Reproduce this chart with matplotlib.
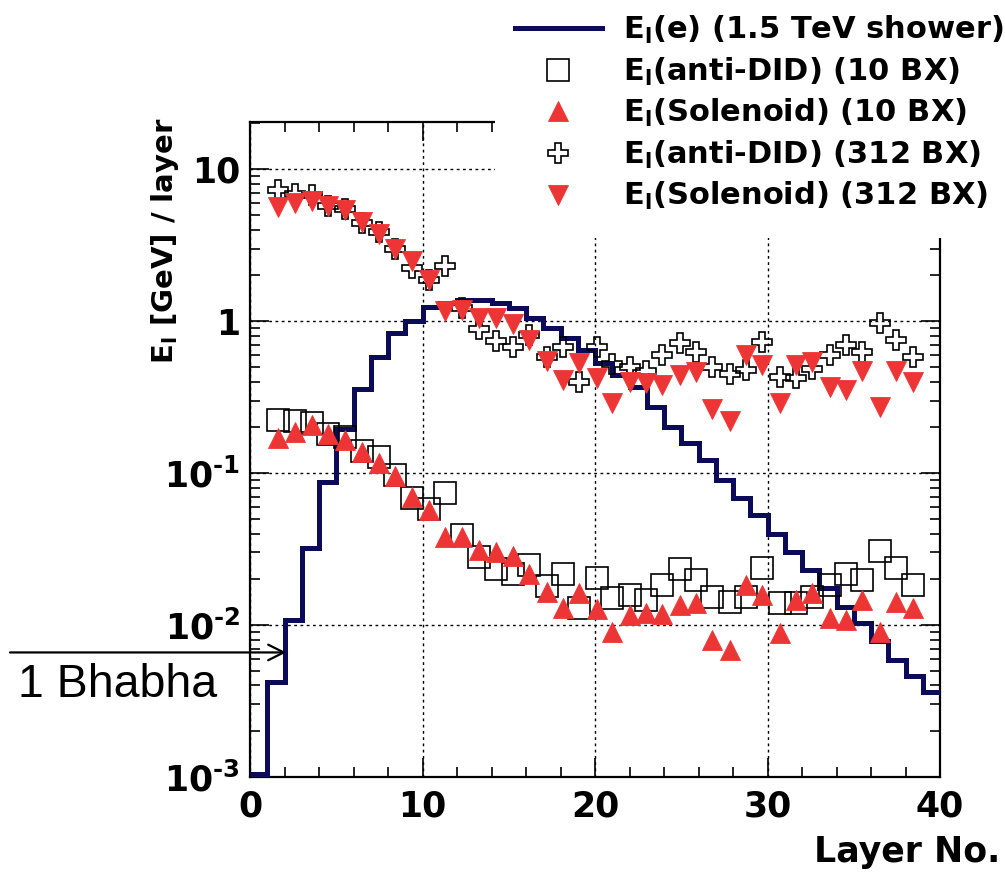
import numpy as np
import matplotlib
matplotlib.use('Agg')
import matplotlib.pyplot as plt
import matplotlib.transforms as mtransforms
from matplotlib.lines import Line2D
from matplotlib.patches import Rectangle
from matplotlib.ticker import MultipleLocator, LogLocator, FuncFormatter, NullFormatter

# energy per layer of a 1.5 TeV electron shower (histogram, layers 0..40)
edges = np.arange(0, 41)
shower = [0.00105, 0.0042, 0.0108, 0.032, 0.087, 0.195, 0.357, 0.58, 0.83, 1.0,
          1.23, 1.32, 1.37, 1.37, 1.31, 1.22, 1.05, 0.90, 0.77, 0.645,
          0.53, 0.44, 0.37, 0.27, 0.20, 0.157, 0.122, 0.090, 0.069, 0.053,
          0.040, 0.030, 0.023, 0.0176, 0.0132, 0.0103, 0.0078, 0.0059, 0.0046, 0.0036]

# pair background, one point per layer
layer_pos = [1.65, 2.6, 3.6, 4.55, 5.5, 6.5, 7.45, 8.4, 9.4, 10.35,
             11.3, 12.3, 13.3, 14.25, 15.25, 16.2, 17.2, 18.15, 19.1, 20.1,
             21.0, 22.0, 22.95, 23.9, 24.9, 25.85, 26.8, 27.8, 28.75, 29.7,
             30.7, 31.65, 32.6, 33.6, 34.55, 35.5, 36.5, 37.45, 38.45]

anti_did_10 = [0.223, 0.22, 0.213, 0.182, 0.172, 0.14, 0.127, 0.097, 0.069, 0.058,
               0.074, 0.039, 0.028, 0.0233, 0.0216, 0.025, 0.018, 0.0216, 0.0129, 0.0205,
               0.0151, 0.0158, 0.0146, 0.0184, 0.0232, 0.0199, 0.0154, 0.0142, 0.0154, 0.0236,
               0.0139, 0.0139, 0.0154, 0.0184, 0.0218, 0.0198, 0.0305, 0.0236, 0.0184]

solenoid_10 = [0.169, 0.187, 0.207, 0.182, 0.165, 0.138, 0.117, 0.096, 0.070, 0.057,
               0.038, 0.038, 0.031, 0.030, 0.0285, 0.0218, 0.0166, 0.0129, 0.0162, 0.0127,
               0.0090, 0.0116, 0.0120, 0.0119, 0.0136, 0.0140, 0.0080, 0.0068, 0.0184, 0.0157,
               0.0088, 0.0146, 0.0162, 0.0111, 0.0108, 0.0146, 0.0090, 0.0142, 0.0129]

anti_did_312 = [7.25, 6.9, 6.7, 5.7, 5.5, 4.4, 3.87, 3.0, 2.24, 1.86,
                2.3, 1.21, 0.89, 0.74, 0.68, 0.81, 0.58, 0.67, 0.40, 0.67,
                0.52, 0.50, 0.47, 0.60, 0.715, 0.628, 0.50, 0.45, 0.476, 0.73,
                0.43, 0.42, 0.48, 0.60, 0.695, 0.63, 0.965, 0.75, 0.58]

solenoid_312 = [5.6, 5.95, 6.2, 5.7, 5.4, 4.5, 3.75, 3.0, 2.5, 1.86,
                1.17, 1.18, 1.05, 1.04, 0.95, 0.75, 0.55, 0.41, 0.53, 0.42,
                0.287, 0.40, 0.39, 0.38, 0.44, 0.46, 0.265, 0.22, 0.60, 0.51,
                0.287, 0.51, 0.54, 0.37, 0.35, 0.47, 0.27, 0.47, 0.40]

bhabha_level = 0.0066
bhabha_layer = 2.1

labels = ['E$_{l}$(e) (1.5 TeV shower)',
          'E$_{l}$(anti-DID) (10 BX)',
          'E$_{l}$(Solenoid) (10 BX)',
          'E$_{l}$(anti-DID) (312 BX)',
          'E$_{l}$(Solenoid) (312 BX)']

navy = '#0b0b58'
red = '#ee3535'

plt.rcParams['font.family'] = 'DejaVu Sans'
plt.rcParams['font.weight'] = 'bold'
plt.rcParams['mathtext.fontset'] = 'dejavusans'
plt.rcParams['mathtext.default'] = 'bf'

W, H = 1005, 874
fig = plt.figure(figsize=(W / 100, H / 100), dpi=100)
ax = fig.add_axes([250 / W, 1 - 777 / H, 690 / W, 655 / H])
ax.set_yscale('log')
ax.set_xlim(0, 40)
ax.set_ylim(1e-3, 20.4)

# grid, dotted at major ticks only
ax.grid(True, which='major', color='k', ls=(0, (2, 2.5)), lw=1.0)
ax.set_axisbelow(True)

ax.stairs(shower, edges, baseline=None, color=navy, lw=3.6, zorder=3)

mk = dict(ls='none')
h_sq, = ax.plot(layer_pos, anti_did_10, marker='s', ms=15.5, mfc='none', mec='k', mew=1.2, zorder=4, **mk)
h_up, = ax.plot(layer_pos, solenoid_10, marker='^', ms=15, mfc=red, mec=red, mew=0.6, zorder=5, **mk)
h_cr, = ax.plot(layer_pos, anti_did_312, marker='P', ms=15, mfc='none', mec='k', mew=1.2, zorder=4, **mk)
h_dn, = ax.plot(layer_pos, solenoid_312, marker='v', ms=15, mfc=red, mec=red, mew=0.6, zorder=5, **mk)

# axes styling
for s in ax.spines.values():
    s.set_linewidth(1.6)
ax.xaxis.set_major_locator(MultipleLocator(10))
ax.xaxis.set_minor_locator(MultipleLocator(2))
ax.yaxis.set_major_locator(LogLocator(base=10))
ax.yaxis.set_minor_locator(LogLocator(base=10, subs=np.arange(2, 10)))
ax.yaxis.set_minor_formatter(NullFormatter())


def ylab(v, pos):
    if v >= 1:
        return '%g' % v
    return r'$10^{\text{-%d}}$' % abs(int(round(np.log10(v))))


ax.yaxis.set_major_formatter(FuncFormatter(ylab))
ax.tick_params(which='both', direction='in', top=True, right=True, width=1.2, labelsize=25)
ax.tick_params(which='major', length=14)
ax.tick_params(which='minor', length=7)
ax.tick_params(axis='x', pad=9)
ax.tick_params(axis='y', pad=7)

# arrow marking the single Bhabha level
tr = mtransforms.blended_transform_factory(fig.transFigure, ax.transData)
ax.annotate('', xy=(bhabha_layer, bhabha_level), xytext=(10 / W, bhabha_level),
            textcoords=tr, annotation_clip=False,
            arrowprops=dict(arrowstyle='->', color='k', lw=1.6, mutation_scale=28,
                            shrinkA=0, shrinkB=0))
fig.text(18 / W, 1 - 697 / H, '1 Bhabha', fontsize=33.5, family='Liberation Sans',
         weight='normal', ha='left', va='baseline')

fig.text(165 / W, 1 - 241 / H, 'E$_{l}$ [GeV] / layer', rotation=90, ha='center',
         va='center', fontsize=21)
fig.text(1000 / W, 1 - 862 / H, 'Layer No.', ha='right', va='baseline', fontsize=25)

# white block behind the legend
fig.add_artist(Rectangle((495 / W, 1 - 238 / H), 510 / W, 238 / H, transform=fig.transFigure,
                         facecolor='white', edgecolor='none', zorder=2))

h_line = Line2D([], [], color=navy, lw=3.6)
fig.legend([h_line, h_sq, h_up, h_cr, h_dn], labels, loc='upper left',
           bbox_to_anchor=(515 / W, 1 - 14 / H), frameon=False, fontsize=22,
           handlelength=2.84, handletextpad=0.69, labelspacing=0.31,
           borderpad=0, borderaxespad=0, numpoints=1)

fig.savefig('out.png', dpi=100)
